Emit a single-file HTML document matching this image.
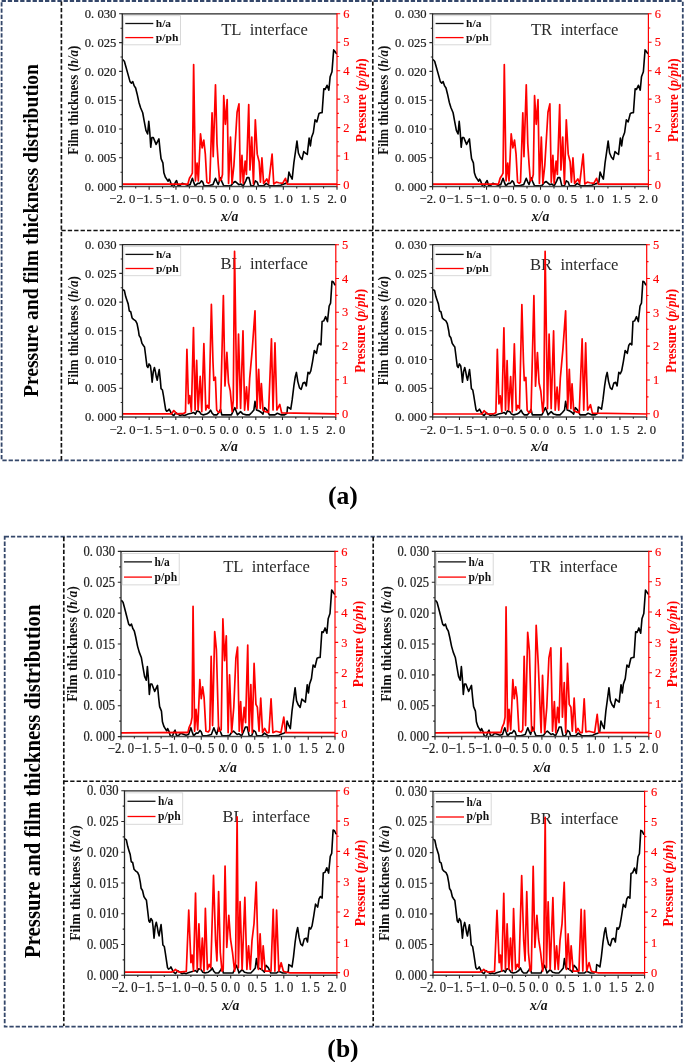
<!DOCTYPE html>
<html><head><meta charset="utf-8"><title>Pressure and film thickness distribution</title>
<style>
html,body{margin:0;padding:0;background:#fff;}
svg{display:block;filter:blur(0.35px);}
text{font-family:"Liberation Serif", serif;}
.tk{font-size:12.6px;fill:#1e1e1e;stroke:#1e1e1e;stroke-width:0.22px;}
.rt{font-size:12.4px;fill:#ff0000;stroke:#ff0000;stroke-width:0.15px;}
.yl{font-size:14px;font-weight:bold;fill:#111;}
.pl{font-size:14.2px;font-weight:bold;fill:#ff0000;}
.xl{font-size:13.6px;font-weight:bold;font-style:italic;fill:#111;}
.lg{font-size:10.6px;font-weight:bold;fill:#111;}
.if{font-size:16.6px;fill:#2a2a2a;}
.bt{font-size:21.3px;font-weight:bold;fill:#000;}
.cap{font-size:25.6px;font-weight:bold;fill:#000;}
</style></head>
<body>
<svg width="685" height="1062" viewBox="0 0 685 1062">
<rect width="685" height="1062" fill="#fff"/>
<rect x="1.6" y="1" width="681.2" height="459.3" fill="none" stroke="#34476a" stroke-width="1.8" stroke-dasharray="4.3 1.9"/>
<path d="M61.4 1.5V460" stroke="#111" stroke-width="1.65" stroke-dasharray="4.3 2.1" fill="none"/>
<path d="M372.8 1.5V460" stroke="#111" stroke-width="1.65" stroke-dasharray="4.3 2.1" fill="none"/>
<path d="M61.4 230.5H682" stroke="#111" stroke-width="1.65" stroke-dasharray="4.3 2.1" fill="none"/>
<rect x="4.7" y="536.7" width="677.1" height="490" fill="none" stroke="#34476a" stroke-width="1.8" stroke-dasharray="4.3 1.9"/>
<path d="M63.8 537V1026" stroke="#111" stroke-width="1.65" stroke-dasharray="4.3 2.1" fill="none"/>
<path d="M373.2 537V1026" stroke="#111" stroke-width="1.65" stroke-dasharray="4.3 2.1" fill="none"/>
<path d="M63.8 781.2H681" stroke="#111" stroke-width="1.65" stroke-dasharray="4.3 2.1" fill="none"/>
<text x="221.2" y="34.6" class="if">TL&#160;&#160;interface</text>
<path d="M122.3 59.76 L122.94 59.76 L124.35 61.2 L125.76 66.16 L127.88 73.88 L130 81.65 L131.41 83.09 L132.82 81.65 L134.23 85.92 L135.64 88.05 L137.06 93.69 L138.89 102.16 L140.58 107.8 L142.7 112.76 L144.11 120.53 L145.94 130.38 L147.64 133.95 L148.77 121.22 L149.75 131.82 L150.74 147.32 L151.87 137.47 L153.29 137.47 L154.98 141.67 L156.1 144.49 L157.52 141.67 L158.93 138.85 L160.06 150.2 L161.05 158.66 L162.88 162.87 L163.87 172.78 L165.28 176.98 L166.69 179.11 L168.1 181.24 L169.09 179.11 L170.22 181.24 L171.63 185.51 L173.75 186.89 L175.16 182.68 L176.57 180.55 L177.98 185.51 L180.1 185.51 L182.22 183.37 L187.54 185.28 L190.08 184.64 L192.37 178.31 L193.64 182.11 L195.16 185.91 L197.7 183.37 L199.61 183.37 L201.51 180.84 L202.78 182.11 L204.05 185.91 L208.5 185.91 L210.4 185.28 L212.95 184.64 L215.49 178.31 L217.01 182.11 L218.28 184.64 L220.31 177.67 L222.09 182.11 L223.74 185.91 L228.18 185.91 L231.36 185.28 L233.27 182.74 L235.17 181.47 L238.81 184.64 L240.72 184.01 L243.26 185.91 L245.8 180.84 L247.07 177.67 L248.97 177.67 L250.88 185.91 L253.42 185.91 L255.32 180.84 L257.23 182.11 L258.5 185.91 L263.58 185.91 L266.12 183.37 L268.03 184.64 L269.93 185.91 L276.92 185.91 L280.73 185.28 L283.9 184.01 L285.81 183.37 L287.72 182.11 L288.93 172.08 L290.35 175.6 L292.18 179.11 L293.87 162.87 L295.28 153.02 L296.98 140.98 L298.39 153.02 L300.22 157.22 L302.06 159.36 L303.75 151.58 L305.44 153.02 L307.28 154.4 L309.12 138.16 L310.39 145.93 L311.52 137.47 L313.35 132.51 L315.04 119.78 L316.88 121.92 L319 113.45 L320.69 112.76 L322.1 112.76 L323.8 88.74 L325.2 89.43 L327.04 85.22 L328.87 90.12 L330.15 76.7 L331.98 71.8 L333.67 49.92 L334.8 51.3 L336.21 53.43 L337 53.43" fill="none" stroke="#000" stroke-width="1.6" stroke-linejoin="round"/>
<path d="M122.3 184.07 L122.94 184.07 L187.54 184.03 L187.86 184.07 L189.45 178.31 L191.35 175.13 L192.37 173.22 L193.64 64.53 L195.42 180.85 L197.07 163.05 L198.34 180.85 L200.5 133.81 L202.15 147.8 L203.8 140.17 L205.32 154.15 L206.85 182.12 L208.5 183.39 L209.77 182.12 L212.06 112.84 L213.2 156.69 L215.49 84.87 L217.01 143.98 L218.28 164.32 L219.55 180.85 L221.2 179.58 L222.47 174.49 L223.74 95.68 L225.39 124.28 L227.17 99.49 L228.57 183.39 L230.47 136.99 L232 183.39 L233.9 165.59 L237.08 112.2 L238.98 103.94 L240.34 182.12 L241.98 155.42 L243.26 183.39 L245.16 161.14 L246.43 174.49 L248.72 104.58 L249.99 170.04 L251.76 136.99 L253.42 184.03 L255.32 119.83 L257.23 154.15 L259.13 161.78 L260.41 182.12 L261.93 157.97 L263.58 183.39 L266.76 178.94 L268.66 183.39 L272.09 154.15 L273.74 184.03 L276.28 182.12 L278.82 182.75 L282.63 183.39 L285.43 178.31 L287.08 184.03 L290 184.03 L295.28 184.07 L336.92 184.07 L337 184.07" fill="none" stroke="#ff0000" stroke-width="1.7" stroke-linejoin="round"/>
<path d="M121.7 13.8 H337" stroke="#262626" stroke-width="1.3"/>
<path d="M122.3 13.8 V187.2" stroke="#262626" stroke-width="1.3"/>
<path d="M122.3 186.6 H337" stroke="#4a4a4a" stroke-width="1.5"/>
<path d="M337 13.2 V187.2" stroke="#ff0000" stroke-width="1.2"/>
<path d="M119.1 186.6H122.3M120.5 172.2H122.3M119.1 157.8H122.3M120.5 143.4H122.3M119.1 129H122.3M120.5 114.6H122.3M119.1 100.2H122.3M120.5 85.8H122.3M119.1 71.4H122.3M120.5 57H122.3M119.1 42.6H122.3M120.5 28.2H122.3M119.1 13.8H122.3M122.3 186.6V189.8M135.72 186.6V188.4M149.14 186.6V189.8M162.56 186.6V188.4M175.97 186.6V189.8M189.39 186.6V188.4M202.81 186.6V189.8M216.23 186.6V188.4M229.65 186.6V189.8M243.07 186.6V188.4M256.49 186.6V189.8M269.91 186.6V188.4M283.32 186.6V189.8M296.74 186.6V188.4M310.16 186.6V189.8M323.58 186.6V188.4M337 186.6V189.8" stroke="#262626" stroke-width="1.1" fill="none"/>
<path d="M337 184.5H340.2M337 170.28H338.8M337 156.05H340.2M337 141.82H338.8M337 127.6H340.2M337 113.38H338.8M337 99.15H340.2M337 84.92H338.8M337 70.7H340.2M337 56.48H338.8M337 42.25H340.2M337 28.03H338.8M337 13.8H340.2" stroke="#ff0000" stroke-width="1.1" fill="none"/>
<text x="116.3" y="190.8" text-anchor="end" class="tk">0. 000</text>
<text x="116.3" y="162" text-anchor="end" class="tk">0. 005</text>
<text x="116.3" y="133.2" text-anchor="end" class="tk">0. 010</text>
<text x="116.3" y="104.4" text-anchor="end" class="tk">0. 015</text>
<text x="116.3" y="75.6" text-anchor="end" class="tk">0. 020</text>
<text x="116.3" y="46.8" text-anchor="end" class="tk">0. 025</text>
<text x="116.3" y="18" text-anchor="end" class="tk">0. 030</text>
<text x="122.3" y="203.4" text-anchor="middle" class="tk">−2. 0</text>
<text x="149.14" y="203.4" text-anchor="middle" class="tk">−1. 5</text>
<text x="175.97" y="203.4" text-anchor="middle" class="tk">−1. 0</text>
<text x="202.81" y="203.4" text-anchor="middle" class="tk">−0. 5</text>
<text x="229.65" y="203.4" text-anchor="middle" class="tk">0. 0</text>
<text x="256.49" y="203.4" text-anchor="middle" class="tk">0. 5</text>
<text x="283.32" y="203.4" text-anchor="middle" class="tk">1. 0</text>
<text x="310.16" y="203.4" text-anchor="middle" class="tk">1. 5</text>
<text x="337" y="203.4" text-anchor="middle" class="tk">2. 0</text>
<text x="343.3" y="188.7" class="rt">0</text>
<text x="343.3" y="160.25" class="rt">1</text>
<text x="343.3" y="131.8" class="rt">2</text>
<text x="343.3" y="103.35" class="rt">3</text>
<text x="343.3" y="74.9" class="rt">4</text>
<text x="343.3" y="46.45" class="rt">5</text>
<text x="343.3" y="18" class="rt">6</text>
<text transform="translate(78 100.2) rotate(-90)" text-anchor="middle" class="yl" textLength="109.1" lengthAdjust="spacingAndGlyphs">Film thickness (<tspan font-style="italic">h/a</tspan>)</text>
<text transform="translate(366.2 100.2) rotate(-90)" text-anchor="middle" class="pl" textLength="83.7" lengthAdjust="spacingAndGlyphs">Pressure (<tspan font-style="italic">p/ph</tspan>)</text>
<text x="229.65" y="220.9" text-anchor="middle" class="xl">x/a</text>
<rect x="123.6" y="15.7" width="56.9" height="29.1" fill="#fff" stroke="#d4d4d4" stroke-width="0.9"/>
<path d="M125.3 23.5H153.3" stroke="#111" stroke-width="1.3"/>
<path d="M125.3 37.6H153.3" stroke="#ff0000" stroke-width="1.3"/>
<text x="155.8" y="27.4" class="lg" textLength="15.3" lengthAdjust="spacingAndGlyphs">h/a</text>
<text x="155.8" y="40.8" class="lg" textLength="22.6" lengthAdjust="spacingAndGlyphs">p/ph</text>
<text x="530.9" y="34.6" class="if">TR&#160;&#160;interface</text>
<path d="M432.6 59.76 L433.24 59.76 L434.66 61.2 L436.08 66.16 L438.21 73.88 L440.34 81.65 L441.76 83.09 L443.17 81.65 L444.59 85.92 L446.01 88.05 L447.43 93.69 L449.27 102.16 L450.98 107.8 L453.1 112.76 L454.52 120.53 L456.36 130.38 L458.07 133.95 L459.2 121.22 L460.2 131.82 L461.19 147.32 L462.33 137.47 L463.75 137.47 L465.44 141.67 L466.58 144.49 L468 141.67 L469.42 138.85 L470.55 150.2 L471.55 158.66 L473.39 162.87 L474.38 172.78 L475.8 176.98 L477.22 179.11 L478.64 181.24 L479.63 179.11 L480.77 181.24 L482.19 185.51 L484.31 186.89 L485.73 182.68 L487.15 180.55 L488.57 185.51 L490.69 185.51 L492.82 183.37 L498.18 185.28 L500.73 184.64 L503.03 178.31 L504.3 182.11 L505.84 185.91 L508.39 183.37 L510.3 183.37 L512.22 180.84 L513.49 182.11 L514.77 185.91 L519.24 185.91 L521.15 185.28 L523.71 184.64 L526.26 178.31 L527.79 182.11 L529.07 184.64 L531.11 177.67 L532.9 182.11 L534.56 185.91 L539.03 185.91 L542.22 185.28 L544.14 182.74 L546.05 181.47 L549.71 184.64 L551.62 184.01 L554.18 185.91 L556.73 180.84 L558.01 177.67 L559.92 177.67 L561.84 185.91 L564.39 185.91 L566.3 180.84 L568.22 182.11 L569.5 185.91 L574.6 185.91 L577.16 183.37 L579.07 184.64 L580.99 185.91 L588.01 185.91 L591.84 185.28 L595.03 184.01 L596.95 183.37 L598.86 182.11 L600.09 172.08 L601.51 175.6 L603.35 179.11 L605.05 162.87 L606.47 153.02 L608.17 140.98 L609.59 153.02 L611.43 157.22 L613.28 159.36 L614.98 151.58 L616.68 153.02 L618.53 154.4 L620.37 138.16 L621.65 145.93 L622.78 137.47 L624.63 132.51 L626.33 119.78 L628.17 121.92 L630.31 113.45 L632 112.76 L633.42 112.76 L635.13 88.74 L636.54 89.43 L638.39 85.22 L640.23 90.12 L641.51 76.7 L643.36 71.8 L645.06 49.92 L646.19 51.3 L647.61 53.43 L648.4 53.43" fill="none" stroke="#000" stroke-width="1.6" stroke-linejoin="round"/>
<path d="M432.6 184.07 L433.24 184.07 L498.18 184.03 L498.5 184.07 L500.09 178.31 L502.01 175.13 L503.03 173.22 L504.3 64.53 L506.09 180.85 L507.75 163.05 L509.03 180.85 L511.2 133.81 L512.86 147.8 L514.52 140.17 L516.05 154.15 L517.58 182.12 L519.24 183.39 L520.52 182.12 L522.82 112.84 L523.96 156.69 L526.26 84.87 L527.79 143.98 L529.07 164.32 L530.35 180.85 L532.01 179.58 L533.29 174.49 L534.56 95.68 L536.22 124.28 L538.01 99.49 L539.41 183.39 L541.33 136.99 L542.86 183.39 L544.77 165.59 L547.97 112.2 L549.88 103.94 L551.24 182.12 L552.9 155.42 L554.18 183.39 L556.09 161.14 L557.37 174.49 L559.67 104.58 L560.94 170.04 L562.73 136.99 L564.39 184.03 L566.3 119.83 L568.22 154.15 L570.13 161.78 L571.41 182.12 L572.95 157.97 L574.6 183.39 L577.8 178.94 L579.71 183.39 L583.16 154.15 L584.82 184.03 L587.37 182.12 L589.92 182.75 L593.75 183.39 L596.56 178.31 L598.22 184.03 L601.16 184.03 L606.47 184.07 L648.32 184.07 L648.4 184.07" fill="none" stroke="#ff0000" stroke-width="1.7" stroke-linejoin="round"/>
<path d="M432 13.8 H648.4" stroke="#262626" stroke-width="1.3"/>
<path d="M432.6 13.8 V187.2" stroke="#262626" stroke-width="1.3"/>
<path d="M432.6 186.6 H648.4" stroke="#4a4a4a" stroke-width="1.5"/>
<path d="M648.4 13.2 V187.2" stroke="#ff0000" stroke-width="1.2"/>
<path d="M429.4 186.6H432.6M430.8 172.2H432.6M429.4 157.8H432.6M430.8 143.4H432.6M429.4 129H432.6M430.8 114.6H432.6M429.4 100.2H432.6M430.8 85.8H432.6M429.4 71.4H432.6M430.8 57H432.6M429.4 42.6H432.6M430.8 28.2H432.6M429.4 13.8H432.6M432.6 186.6V189.8M446.09 186.6V188.4M459.58 186.6V189.8M473.06 186.6V188.4M486.55 186.6V189.8M500.04 186.6V188.4M513.52 186.6V189.8M527.01 186.6V188.4M540.5 186.6V189.8M553.99 186.6V188.4M567.48 186.6V189.8M580.96 186.6V188.4M594.45 186.6V189.8M607.94 186.6V188.4M621.42 186.6V189.8M634.91 186.6V188.4M648.4 186.6V189.8" stroke="#262626" stroke-width="1.1" fill="none"/>
<path d="M648.4 184.5H651.6M648.4 170.28H650.2M648.4 156.05H651.6M648.4 141.82H650.2M648.4 127.6H651.6M648.4 113.38H650.2M648.4 99.15H651.6M648.4 84.92H650.2M648.4 70.7H651.6M648.4 56.48H650.2M648.4 42.25H651.6M648.4 28.03H650.2M648.4 13.8H651.6" stroke="#ff0000" stroke-width="1.1" fill="none"/>
<text x="426.6" y="190.8" text-anchor="end" class="tk">0. 000</text>
<text x="426.6" y="162" text-anchor="end" class="tk">0. 005</text>
<text x="426.6" y="133.2" text-anchor="end" class="tk">0. 010</text>
<text x="426.6" y="104.4" text-anchor="end" class="tk">0. 015</text>
<text x="426.6" y="75.6" text-anchor="end" class="tk">0. 020</text>
<text x="426.6" y="46.8" text-anchor="end" class="tk">0. 025</text>
<text x="426.6" y="18" text-anchor="end" class="tk">0. 030</text>
<text x="432.6" y="203.4" text-anchor="middle" class="tk">−2. 0</text>
<text x="459.58" y="203.4" text-anchor="middle" class="tk">−1. 5</text>
<text x="486.55" y="203.4" text-anchor="middle" class="tk">−1. 0</text>
<text x="513.52" y="203.4" text-anchor="middle" class="tk">−0. 5</text>
<text x="540.5" y="203.4" text-anchor="middle" class="tk">0. 0</text>
<text x="567.48" y="203.4" text-anchor="middle" class="tk">0. 5</text>
<text x="594.45" y="203.4" text-anchor="middle" class="tk">1. 0</text>
<text x="621.42" y="203.4" text-anchor="middle" class="tk">1. 5</text>
<text x="648.4" y="203.4" text-anchor="middle" class="tk">2. 0</text>
<text x="654.7" y="188.7" class="rt">0</text>
<text x="654.7" y="160.25" class="rt">1</text>
<text x="654.7" y="131.8" class="rt">2</text>
<text x="654.7" y="103.35" class="rt">3</text>
<text x="654.7" y="74.9" class="rt">4</text>
<text x="654.7" y="46.45" class="rt">5</text>
<text x="654.7" y="18" class="rt">6</text>
<text transform="translate(388.3 100.2) rotate(-90)" text-anchor="middle" class="yl" textLength="109.1" lengthAdjust="spacingAndGlyphs">Film thickness (<tspan font-style="italic">h/a</tspan>)</text>
<text transform="translate(677.6 100.2) rotate(-90)" text-anchor="middle" class="pl" textLength="83.7" lengthAdjust="spacingAndGlyphs">Pressure (<tspan font-style="italic">p/ph</tspan>)</text>
<text x="540.5" y="220.9" text-anchor="middle" class="xl">x/a</text>
<rect x="433.9" y="15.7" width="56.9" height="29.1" fill="#fff" stroke="#d4d4d4" stroke-width="0.9"/>
<path d="M435.6 23.5H463.6" stroke="#111" stroke-width="1.3"/>
<path d="M435.6 37.6H463.6" stroke="#ff0000" stroke-width="1.3"/>
<text x="466.1" y="27.4" class="lg" textLength="15.3" lengthAdjust="spacingAndGlyphs">h/a</text>
<text x="466.1" y="40.8" class="lg" textLength="22.6" lengthAdjust="spacingAndGlyphs">p/ph</text>
<text x="220.4" y="269" class="if">BL&#160;&#160;interface</text>
<path d="M122.5 289.76 L122.94 289.76 L124.35 290.51 L125.76 296.82 L127.17 301.07 L128.16 303.88 L129.29 310.94 L130.7 311.69 L132.11 318 L133.53 319.43 L135.64 320.87 L137.05 323.68 L138.47 330.74 L139.17 335.68 L140.58 337.8 L142 343.43 L143.4 345.55 L144.53 346.99 L145.52 354.74 L146.93 366.04 L147.92 367.48 L149.05 363.92 L150.46 366.04 L151.17 371.67 L152.15 382.29 L153.28 371.67 L154.42 367.48 L155.4 371.67 L156.39 377.35 L157.24 380.16 L158.22 374.54 L159.21 369.6 L160.34 380.16 L161.05 388.66 L162.46 390.04 L163.45 395.72 L164.57 402.78 L165.7 409.84 L166.69 411.22 L168.1 410.53 L169.09 409.15 L170.22 411.22 L171.63 414.09 L173.75 415.46 L175.87 412.65 L177.98 414.09 L180.1 415.46 L182.22 414.78 L184.34 415.46 L185.8 414.89 L188.2 414.09 L191.4 413.28 L193.8 412.48 L195.39 414.09 L196.99 410.87 L199.39 411.68 L200.99 414.09 L203.39 414.89 L206.58 414.09 L208.98 412.48 L210.58 410.07 L212.18 413.28 L213.78 414.89 L216.98 414.89 L219.38 411.68 L220.5 409.27 L221.78 414.89 L231.37 414.89 L232.96 411.68 L234.88 407.66 L236.96 413.28 L237.4 414.89 L240.59 411.68 L242.99 414.09 L246.19 414.89 L249.39 414.89 L251.79 412.48 L253.87 410.07 L254.99 401.29 L256.59 410.07 L258.98 410.87 L261.38 412.48 L262.98 414.09 L264.58 407.66 L266.98 410.07 L269.37 414.89 L274.97 414.89 L277.37 413.28 L281.37 414.89 L284.57 414.89 L286.96 413.28 L287.52 407.03 L288.93 407.72 L290.77 409.15 L292.18 399.97 L293.87 385.85 L295.28 376.66 L296.41 372.41 L297.82 381.6 L299.52 387.91 L301.21 389.35 L303.05 382.98 L304.88 382.29 L306.29 385.85 L307.99 372.41 L309.4 373.79 L310.81 370.98 L312.5 361.8 L314.34 350.49 L316.45 353.36 L317.87 345.55 L319.27 343.43 L320.97 344.86 L322.1 321.56 L323.79 320.87 L325.63 316.62 L327.47 321.56 L329.16 306 L330.57 303.19 L331.98 281.32 L333.39 282.01 L334.8 284.82 L335.8 284.82" fill="none" stroke="#000" stroke-width="1.6" stroke-linejoin="round"/>
<path d="M122.5 413.79 L122.94 413.79 L171.63 413.79 L173.75 410.54 L175.16 411.95 L176.57 413.79 L183.63 413.36 L185.48 412.48 L186.92 349.25 L188.52 403.67 L189.8 395.67 L191.4 411.68 L193.48 327.64 L195.08 410.08 L196.67 360.45 L198.11 410.08 L200.19 376.46 L201.79 411.68 L203.87 343.64 L205.78 410.08 L207.38 405.27 L208.98 408.47 L211.38 304.43 L212.98 362.05 L213.78 380.46 L215.38 377.26 L216.66 410.08 L218.58 412.48 L220.5 411.68 L223.37 295.62 L224.97 386.06 L226.89 352.45 L228.49 382.86 L230.25 390.87 L232.17 411.68 L233.28 400.47 L234.56 251.28 L236.92 408.47 L238.52 334.04 L240.59 408.47 L242.99 330.84 L244.59 410.08 L246.51 386.86 L248.11 410.08 L249.71 378.06 L252.27 349.25 L254.99 310.83 L257.07 408.47 L258.67 369.26 L260.26 408.47 L261.38 383.66 L262.98 410.08 L265.38 411.68 L268.57 412.48 L271.45 338.84 L273.05 410.08 L274.97 342.84 L276.89 410.08 L279.77 404.47 L281.69 412.96 L335.8 413.79" fill="none" stroke="#ff0000" stroke-width="1.7" stroke-linejoin="round"/>
<path d="M121.9 244.7 H335.8" stroke="#262626" stroke-width="1.3"/>
<path d="M122.5 244.7 V417.5" stroke="#262626" stroke-width="1.3"/>
<path d="M122.5 416.9 H335.8" stroke="#4a4a4a" stroke-width="1.5"/>
<path d="M335.8 244.1 V417.5" stroke="#ff0000" stroke-width="1.2"/>
<path d="M119.3 416.9H122.5M120.7 402.55H122.5M119.3 388.2H122.5M120.7 373.85H122.5M119.3 359.5H122.5M120.7 345.15H122.5M119.3 330.8H122.5M120.7 316.45H122.5M119.3 302.1H122.5M120.7 287.75H122.5M119.3 273.4H122.5M120.7 259.05H122.5M119.3 244.7H122.5M122.5 416.9V420.1M135.83 416.9V418.7M149.16 416.9V420.1M162.49 416.9V418.7M175.82 416.9V420.1M189.16 416.9V418.7M202.49 416.9V420.1M215.82 416.9V418.7M229.15 416.9V420.1M242.48 416.9V418.7M255.81 416.9V420.1M269.14 416.9V418.7M282.48 416.9V420.1M295.81 416.9V418.7M309.14 416.9V420.1M322.47 416.9V418.7M335.8 416.9V420.1" stroke="#262626" stroke-width="1.1" fill="none"/>
<path d="M335.8 413.6H339M335.8 396.71H337.6M335.8 379.82H339M335.8 362.93H337.6M335.8 346.04H339M335.8 329.15H337.6M335.8 312.26H339M335.8 295.37H337.6M335.8 278.48H339M335.8 261.59H337.6M335.8 244.7H339" stroke="#ff0000" stroke-width="1.1" fill="none"/>
<text x="116.5" y="421.1" text-anchor="end" class="tk">0. 000</text>
<text x="116.5" y="392.4" text-anchor="end" class="tk">0. 005</text>
<text x="116.5" y="363.7" text-anchor="end" class="tk">0. 010</text>
<text x="116.5" y="335" text-anchor="end" class="tk">0. 015</text>
<text x="116.5" y="306.3" text-anchor="end" class="tk">0. 020</text>
<text x="116.5" y="277.6" text-anchor="end" class="tk">0. 025</text>
<text x="116.5" y="248.9" text-anchor="end" class="tk">0. 030</text>
<text x="122.5" y="433.7" text-anchor="middle" class="tk">−2. 0</text>
<text x="149.16" y="433.7" text-anchor="middle" class="tk">−1. 5</text>
<text x="175.82" y="433.7" text-anchor="middle" class="tk">−1. 0</text>
<text x="202.49" y="433.7" text-anchor="middle" class="tk">−0. 5</text>
<text x="229.15" y="433.7" text-anchor="middle" class="tk">0. 0</text>
<text x="255.81" y="433.7" text-anchor="middle" class="tk">0. 5</text>
<text x="282.48" y="433.7" text-anchor="middle" class="tk">1. 0</text>
<text x="309.14" y="433.7" text-anchor="middle" class="tk">1. 5</text>
<text x="335.8" y="433.7" text-anchor="middle" class="tk">2. 0</text>
<text x="342.1" y="417.8" class="rt">0</text>
<text x="342.1" y="384.02" class="rt">1</text>
<text x="342.1" y="350.24" class="rt">2</text>
<text x="342.1" y="316.46" class="rt">3</text>
<text x="342.1" y="282.68" class="rt">4</text>
<text x="342.1" y="248.9" class="rt">5</text>
<text transform="translate(78.2 330.8) rotate(-90)" text-anchor="middle" class="yl" textLength="109.1" lengthAdjust="spacingAndGlyphs">Film thickness (<tspan font-style="italic">h/a</tspan>)</text>
<text transform="translate(365 330.8) rotate(-90)" text-anchor="middle" class="pl" textLength="83.7" lengthAdjust="spacingAndGlyphs">Pressure (<tspan font-style="italic">p/ph</tspan>)</text>
<text x="229.15" y="451.2" text-anchor="middle" class="xl">x/a</text>
<rect x="123.8" y="246.6" width="56.9" height="29.1" fill="#fff" stroke="#d4d4d4" stroke-width="0.9"/>
<path d="M125.5 254.4H153.5" stroke="#111" stroke-width="1.3"/>
<path d="M125.5 268.5H153.5" stroke="#ff0000" stroke-width="1.3"/>
<text x="156" y="258.3" class="lg" textLength="15.3" lengthAdjust="spacingAndGlyphs">h/a</text>
<text x="156" y="271.7" class="lg" textLength="22.6" lengthAdjust="spacingAndGlyphs">p/ph</text>
<text x="530" y="270.3" class="if">BR&#160;&#160;interface</text>
<path d="M432.7 289.76 L433.14 289.76 L434.56 290.51 L435.97 296.82 L437.39 301.07 L438.38 303.88 L439.51 310.94 L440.93 311.69 L442.35 318 L443.76 319.43 L445.89 320.87 L447.3 323.68 L448.72 330.74 L449.42 335.68 L450.84 337.8 L452.26 343.43 L453.67 345.55 L454.81 346.99 L455.8 354.74 L457.21 366.04 L458.2 367.48 L459.34 363.92 L460.76 366.04 L461.46 371.67 L462.45 382.29 L463.59 371.67 L464.72 367.48 L465.71 371.67 L466.7 377.35 L467.55 380.16 L468.54 374.54 L469.53 369.6 L470.66 380.16 L471.38 388.66 L472.79 390.04 L473.78 395.72 L474.91 402.78 L476.05 409.84 L477.04 411.22 L478.45 410.53 L479.44 409.15 L480.58 411.22 L481.99 414.09 L484.12 415.46 L486.24 412.65 L488.37 414.09 L490.49 415.46 L492.61 414.78 L494.74 415.46 L496.2 414.89 L498.61 414.09 L501.82 413.28 L504.23 412.48 L505.83 414.09 L507.43 410.87 L509.84 411.68 L511.45 414.09 L513.85 414.89 L517.06 414.09 L519.47 412.48 L521.07 410.07 L522.68 413.28 L524.28 414.89 L527.49 414.89 L529.89 411.68 L531.02 409.27 L532.3 414.89 L541.93 414.89 L543.53 411.68 L545.45 407.66 L547.54 413.28 L547.98 414.89 L551.18 411.68 L553.59 414.09 L556.8 414.89 L560.01 414.89 L562.41 412.48 L564.5 410.07 L565.62 401.29 L567.23 410.07 L569.63 410.87 L572.04 412.48 L573.64 414.09 L575.25 407.66 L577.65 410.07 L580.06 414.89 L585.67 414.89 L588.08 413.28 L592.09 414.89 L595.3 414.89 L597.7 413.28 L598.26 407.03 L599.68 407.72 L601.52 409.15 L602.94 399.97 L604.63 385.85 L606.05 376.66 L607.18 372.41 L608.6 381.6 L610.3 387.91 L612 389.35 L613.84 382.98 L615.68 382.29 L617.09 385.85 L618.79 372.41 L620.21 373.79 L621.62 370.98 L623.33 361.8 L625.17 350.49 L627.29 353.36 L628.71 345.55 L630.12 343.43 L631.82 344.86 L632.96 321.56 L634.65 320.87 L636.49 316.62 L638.34 321.56 L640.03 306 L641.45 303.19 L642.87 281.32 L644.28 282.01 L645.7 284.82 L646.7 284.82" fill="none" stroke="#000" stroke-width="1.6" stroke-linejoin="round"/>
<path d="M432.7 413.99 L433.14 413.99 L481.99 413.99 L484.12 410.73 L485.53 412.15 L486.95 413.99 L494.03 413.56 L495.89 412.68 L497.33 349.37 L498.93 403.86 L500.22 395.85 L501.82 411.87 L503.91 327.73 L505.51 410.27 L507.11 360.59 L508.56 410.27 L510.64 376.62 L512.25 411.87 L514.34 343.76 L516.26 410.27 L517.86 405.46 L519.47 408.67 L521.87 304.5 L523.48 362.19 L524.28 380.62 L525.88 377.42 L527.16 410.27 L529.09 412.68 L531.02 411.87 L533.9 295.68 L535.51 386.23 L537.43 352.58 L539.04 383.03 L540.8 391.04 L542.73 411.87 L543.85 400.66 L545.13 251.29 L547.49 408.67 L549.1 334.15 L551.18 408.67 L553.59 330.94 L555.19 410.27 L557.12 387.03 L558.72 410.27 L560.32 378.22 L562.89 349.37 L565.62 310.91 L567.71 408.67 L569.31 369.4 L570.91 408.67 L572.04 383.83 L573.64 410.27 L576.05 411.87 L579.25 412.68 L582.14 338.95 L583.75 410.27 L585.67 342.96 L587.6 410.27 L590.48 404.66 L592.41 413.16 L646.7 413.99" fill="none" stroke="#ff0000" stroke-width="1.7" stroke-linejoin="round"/>
<path d="M432.1 244.7 H646.7" stroke="#262626" stroke-width="1.3"/>
<path d="M432.7 244.7 V417.5" stroke="#262626" stroke-width="1.3"/>
<path d="M432.7 416.9 H646.7" stroke="#4a4a4a" stroke-width="1.5"/>
<path d="M646.7 244.1 V417.5" stroke="#ff0000" stroke-width="1.2"/>
<path d="M429.5 416.9H432.7M430.9 402.55H432.7M429.5 388.2H432.7M430.9 373.85H432.7M429.5 359.5H432.7M430.9 345.15H432.7M429.5 330.8H432.7M430.9 316.45H432.7M429.5 302.1H432.7M430.9 287.75H432.7M429.5 273.4H432.7M430.9 259.05H432.7M429.5 244.7H432.7M432.7 416.9V420.1M446.07 416.9V418.7M459.45 416.9V420.1M472.82 416.9V418.7M486.2 416.9V420.1M499.57 416.9V418.7M512.95 416.9V420.1M526.33 416.9V418.7M539.7 416.9V420.1M553.08 416.9V418.7M566.45 416.9V420.1M579.83 416.9V418.7M593.2 416.9V420.1M606.58 416.9V418.7M619.95 416.9V420.1M633.33 416.9V418.7M646.7 416.9V420.1" stroke="#262626" stroke-width="1.1" fill="none"/>
<path d="M646.7 413.8H649.9M646.7 396.89H648.5M646.7 379.98H649.9M646.7 363.07H648.5M646.7 346.16H649.9M646.7 329.25H648.5M646.7 312.34H649.9M646.7 295.43H648.5M646.7 278.52H649.9M646.7 261.61H648.5M646.7 244.7H649.9" stroke="#ff0000" stroke-width="1.1" fill="none"/>
<text x="426.7" y="421.1" text-anchor="end" class="tk">0. 000</text>
<text x="426.7" y="392.4" text-anchor="end" class="tk">0. 005</text>
<text x="426.7" y="363.7" text-anchor="end" class="tk">0. 010</text>
<text x="426.7" y="335" text-anchor="end" class="tk">0. 015</text>
<text x="426.7" y="306.3" text-anchor="end" class="tk">0. 020</text>
<text x="426.7" y="277.6" text-anchor="end" class="tk">0. 025</text>
<text x="426.7" y="248.9" text-anchor="end" class="tk">0. 030</text>
<text x="432.7" y="433.7" text-anchor="middle" class="tk">−2. 0</text>
<text x="459.45" y="433.7" text-anchor="middle" class="tk">−1. 5</text>
<text x="486.2" y="433.7" text-anchor="middle" class="tk">−1. 0</text>
<text x="512.95" y="433.7" text-anchor="middle" class="tk">−0. 5</text>
<text x="539.7" y="433.7" text-anchor="middle" class="tk">0. 0</text>
<text x="566.45" y="433.7" text-anchor="middle" class="tk">0. 5</text>
<text x="593.2" y="433.7" text-anchor="middle" class="tk">1. 0</text>
<text x="619.95" y="433.7" text-anchor="middle" class="tk">1. 5</text>
<text x="646.7" y="433.7" text-anchor="middle" class="tk">2. 0</text>
<text x="653" y="418" class="rt">0</text>
<text x="653" y="384.18" class="rt">1</text>
<text x="653" y="350.36" class="rt">2</text>
<text x="653" y="316.54" class="rt">3</text>
<text x="653" y="282.72" class="rt">4</text>
<text x="653" y="248.9" class="rt">5</text>
<text transform="translate(388.4 330.8) rotate(-90)" text-anchor="middle" class="yl" textLength="109.1" lengthAdjust="spacingAndGlyphs">Film thickness (<tspan font-style="italic">h/a</tspan>)</text>
<text transform="translate(675.9 330.8) rotate(-90)" text-anchor="middle" class="pl" textLength="83.7" lengthAdjust="spacingAndGlyphs">Pressure (<tspan font-style="italic">p/ph</tspan>)</text>
<text x="539.7" y="451.2" text-anchor="middle" class="xl">x/a</text>
<rect x="434" y="246.6" width="56.9" height="29.1" fill="#fff" stroke="#d4d4d4" stroke-width="0.9"/>
<path d="M435.7 254.4H463.7" stroke="#111" stroke-width="1.3"/>
<path d="M435.7 268.5H463.7" stroke="#ff0000" stroke-width="1.3"/>
<text x="466.2" y="258.3" class="lg" textLength="15.3" lengthAdjust="spacingAndGlyphs">h/a</text>
<text x="466.2" y="271.7" class="lg" textLength="22.6" lengthAdjust="spacingAndGlyphs">p/ph</text>
<text x="223.2" y="572.2" class="if">TL&#160;&#160;interface</text>
<path d="M121 600.66 L121.64 600.66 L123.04 602.21 L124.45 607.52 L126.56 615.79 L128.67 624.12 L130.08 625.67 L131.49 624.12 L132.89 628.69 L134.3 630.97 L135.71 637.02 L137.53 646.1 L139.22 652.15 L141.33 657.46 L142.74 665.79 L144.57 676.35 L146.26 680.18 L147.38 666.53 L148.37 677.89 L149.35 694.5 L150.48 683.94 L151.89 683.94 L153.57 688.45 L154.69 691.47 L156.1 688.45 L157.51 685.42 L158.64 697.58 L159.62 706.66 L161.45 711.17 L162.44 721.78 L163.84 726.29 L165.25 728.57 L166.65 730.86 L167.64 728.57 L168.76 730.86 L170.17 735.43 L172.28 736.91 L173.69 732.4 L175.09 730.12 L176.5 735.43 L178.61 735.43 L180.72 733.14 L186.03 735.18 L188.56 734.5 L190.84 727.71 L192.11 731.78 L193.63 735.86 L196.16 733.14 L198.06 733.14 L199.96 730.43 L201.22 731.78 L202.49 735.86 L206.92 735.86 L208.81 735.18 L211.35 734.5 L213.88 727.71 L215.4 731.78 L216.67 734.5 L218.69 727.03 L220.47 731.78 L222.11 735.86 L226.54 735.86 L229.71 735.18 L231.61 732.46 L233.51 731.11 L237.13 734.5 L239.03 733.82 L241.56 735.86 L244.09 730.43 L245.36 727.03 L247.26 727.03 L249.16 735.86 L251.69 735.86 L253.59 730.43 L255.49 731.78 L256.76 735.86 L261.82 735.86 L264.35 733.14 L266.25 734.5 L268.15 735.86 L275.11 735.86 L278.91 735.18 L282.08 733.82 L283.98 733.14 L285.88 731.78 L287.09 721.04 L288.5 724.81 L290.33 728.57 L292.01 711.17 L293.42 700.61 L295.11 687.71 L296.52 700.61 L298.34 705.12 L300.17 707.4 L301.86 699.07 L303.55 700.61 L305.38 702.09 L307.21 684.68 L308.47 693.02 L309.6 683.94 L311.43 678.63 L313.11 664.99 L314.94 667.27 L317.06 658.2 L318.74 657.46 L320.15 657.46 L321.84 631.72 L323.24 632.46 L325.07 627.95 L326.9 633.2 L328.17 618.81 L330 613.57 L331.68 590.11 L332.81 591.59 L334.21 593.87 L335 593.87" fill="none" stroke="#000" stroke-width="1.6" stroke-linejoin="round"/>
<path d="M121 732.92 L122.03 732.92 L186.85 732.47 L187.83 732.66 L189.24 727.01 L190.94 723.47 L192.07 717.12 L193.06 606.24 L194.62 731.24 L196.03 709.35 L197.72 729.83 L199.85 679.69 L201.26 698.76 L202.67 686.75 L204.09 697.34 L205.93 731.24 L208.33 731.95 L209.74 729.83 L211.16 656.38 L212.57 725.59 L214.69 631.67 L216.39 649.32 L218.65 731.24 L220.07 730.54 L221.19 729.83 L222.89 618.95 L224.59 660.62 L226.29 635.9 L228.12 732.66 L229.54 674.75 L231.66 732.66 L233.78 707.23 L235.9 657.8 L237.54 647.2 L239.24 731.24 L240.66 701.58 L242.07 732.66 L244.19 707.23 L245.6 722.77 L247.73 645.08 L249.14 731.24 L250.83 684.63 L252.25 732.66 L254.09 663.45 L255.93 704.41 L257.34 707.23 L259.04 731.24 L260.73 698.05 L262.57 732.66 L264.69 728.42 L266.81 732.66 L268.93 732.66 L271.05 698.76 L272.89 732.66 L276 731.24 L278.83 731.95 L280.95 732.66 L283.78 717.12 L285.62 732.66 L290 732.66 L333.97 732.66 L335 732.66" fill="none" stroke="#ff0000" stroke-width="1.7" stroke-linejoin="round"/>
<path d="M120.4 551.4 H335" stroke="#262626" stroke-width="1.3"/>
<path d="M121 551.4 V737.2" stroke="#262626" stroke-width="1.3"/>
<path d="M121 736.6 H335" stroke="#4a4a4a" stroke-width="1.5"/>
<path d="M335 550.8 V737.2" stroke="#ff0000" stroke-width="1.2"/>
<path d="M117.8 736.6H121M119.2 721.17H121M117.8 705.73H121M119.2 690.3H121M117.8 674.87H121M119.2 659.43H121M117.8 644H121M119.2 628.57H121M117.8 613.13H121M119.2 597.7H121M117.8 582.27H121M119.2 566.83H121M117.8 551.4H121M121 736.6V739.8M134.38 736.6V738.4M147.75 736.6V739.8M161.12 736.6V738.4M174.5 736.6V739.8M187.88 736.6V738.4M201.25 736.6V739.8M214.62 736.6V738.4M228 736.6V739.8M241.38 736.6V738.4M254.75 736.6V739.8M268.12 736.6V738.4M281.5 736.6V739.8M294.88 736.6V738.4M308.25 736.6V739.8M321.62 736.6V738.4M335 736.6V739.8" stroke="#262626" stroke-width="1.1" fill="none"/>
<path d="M335 733.4H338.2M335 718.23H336.8M335 703.07H338.2M335 687.9H336.8M335 672.73H338.2M335 657.57H336.8M335 642.4H338.2M335 627.23H336.8M335 612.07H338.2M335 596.9H336.8M335 581.73H338.2M335 566.57H336.8M335 551.4H338.2" stroke="#ff0000" stroke-width="1.1" fill="none"/>
<text transform="translate(115 741.14) scale(1 1.08)" text-anchor="end" class="tk">0. 000</text>
<text transform="translate(115 710.27) scale(1 1.08)" text-anchor="end" class="tk">0. 005</text>
<text transform="translate(115 679.4) scale(1 1.08)" text-anchor="end" class="tk">0. 010</text>
<text transform="translate(115 648.54) scale(1 1.08)" text-anchor="end" class="tk">0. 015</text>
<text transform="translate(115 617.67) scale(1 1.08)" text-anchor="end" class="tk">0. 020</text>
<text transform="translate(115 586.8) scale(1 1.08)" text-anchor="end" class="tk">0. 025</text>
<text transform="translate(115 555.94) scale(1 1.08)" text-anchor="end" class="tk">0. 030</text>
<text transform="translate(121 753.1) scale(1 1.08)" text-anchor="middle" class="tk">−2. 0</text>
<text transform="translate(147.75 753.1) scale(1 1.08)" text-anchor="middle" class="tk">−1. 5</text>
<text transform="translate(174.5 753.1) scale(1 1.08)" text-anchor="middle" class="tk">−1. 0</text>
<text transform="translate(201.25 753.1) scale(1 1.08)" text-anchor="middle" class="tk">−0. 5</text>
<text transform="translate(228 753.1) scale(1 1.08)" text-anchor="middle" class="tk">0. 0</text>
<text transform="translate(254.75 753.1) scale(1 1.08)" text-anchor="middle" class="tk">0. 5</text>
<text transform="translate(281.5 753.1) scale(1 1.08)" text-anchor="middle" class="tk">1. 0</text>
<text transform="translate(308.25 753.1) scale(1 1.08)" text-anchor="middle" class="tk">1. 5</text>
<text transform="translate(335 753.1) scale(1 1.08)" text-anchor="middle" class="tk">2. 0</text>
<text transform="translate(341.3 737.94) scale(1 1.08)" class="rt">0</text>
<text transform="translate(341.3 707.6) scale(1 1.08)" class="rt">1</text>
<text transform="translate(341.3 677.27) scale(1 1.08)" class="rt">2</text>
<text transform="translate(341.3 646.94) scale(1 1.08)" class="rt">3</text>
<text transform="translate(341.3 616.6) scale(1 1.08)" class="rt">4</text>
<text transform="translate(341.3 586.27) scale(1 1.08)" class="rt">5</text>
<text transform="translate(341.3 555.94) scale(1 1.08)" class="rt">6</text>
<text transform="translate(76.7 644) rotate(-90)" text-anchor="middle" class="yl" textLength="115.7" lengthAdjust="spacingAndGlyphs">Film thickness (<tspan font-style="italic">h/a</tspan>)</text>
<text transform="translate(363.3 644) rotate(-90)" text-anchor="middle" class="pl" textLength="86.4" lengthAdjust="spacingAndGlyphs">Pressure (<tspan font-style="italic">p/ph</tspan>)</text>
<text transform="translate(228 771.7) scale(1 1.08)" text-anchor="middle" class="xl">x/a</text>
<rect x="122.3" y="553.45" width="56.9" height="31.43" fill="#fff" stroke="#d4d4d4" stroke-width="0.9"/>
<path d="M124 561.88H152" stroke="#111" stroke-width="1.3"/>
<path d="M124 577.1H152" stroke="#ff0000" stroke-width="1.3"/>
<text transform="translate(154.5 566.09) scale(1 1.08)" class="lg" textLength="15.3" lengthAdjust="spacingAndGlyphs">h/a</text>
<text transform="translate(154.5 580.56) scale(1 1.08)" class="lg" textLength="22.6" lengthAdjust="spacingAndGlyphs">p/ph</text>
<text x="530" y="572" class="if">TR&#160;&#160;interface</text>
<path d="M435 600.66 L435.64 600.66 L437.04 602.21 L438.45 607.52 L440.56 615.79 L442.66 624.12 L444.07 625.67 L445.48 624.12 L446.88 628.69 L448.29 630.97 L449.69 637.02 L451.52 646.1 L453.21 652.15 L455.31 657.46 L456.72 665.79 L458.54 676.35 L460.23 680.18 L461.36 666.53 L462.34 677.89 L463.32 694.5 L464.45 683.94 L465.86 683.94 L467.54 688.45 L468.66 691.47 L470.07 688.45 L471.47 685.42 L472.6 697.58 L473.59 706.66 L475.41 711.17 L476.4 721.78 L477.8 726.29 L479.21 728.57 L480.61 730.86 L481.6 728.57 L482.72 730.86 L484.13 735.43 L486.23 736.91 L487.64 732.4 L489.04 730.12 L490.45 735.43 L492.55 735.43 L494.67 733.14 L499.97 735.18 L502.5 734.5 L504.77 727.71 L506.04 731.78 L507.56 735.86 L510.09 733.14 L511.98 733.14 L513.88 730.43 L515.14 731.78 L516.41 735.86 L520.84 735.86 L522.73 735.18 L525.27 734.5 L527.79 727.71 L529.31 731.78 L530.58 734.5 L532.6 727.03 L534.37 731.78 L536.02 735.86 L540.44 735.86 L543.61 735.18 L545.5 732.46 L547.4 731.11 L551.02 734.5 L552.92 733.82 L555.45 735.86 L557.98 730.43 L559.24 727.03 L561.14 727.03 L563.04 735.86 L565.57 735.86 L567.47 730.43 L569.36 731.78 L570.63 735.86 L575.69 735.86 L578.22 733.14 L580.12 734.5 L582.01 735.86 L588.97 735.86 L592.76 735.18 L595.93 733.82 L597.82 733.14 L599.72 731.78 L600.94 721.04 L602.34 724.81 L604.17 728.57 L605.85 711.17 L607.26 700.61 L608.95 687.71 L610.35 700.61 L612.18 705.12 L614 707.4 L615.69 699.07 L617.38 700.61 L619.2 702.09 L621.03 684.68 L622.3 693.02 L623.42 683.94 L625.25 678.63 L626.93 664.99 L628.76 667.27 L630.87 658.2 L632.56 657.46 L633.96 657.46 L635.65 631.72 L637.05 632.46 L638.88 627.95 L640.71 633.2 L641.97 618.81 L643.8 613.57 L645.49 590.11 L646.61 591.59 L648.01 593.87 L648.8 593.87" fill="none" stroke="#000" stroke-width="1.6" stroke-linejoin="round"/>
<path d="M435 732.92 L435.03 732.92 L499.85 732.47 L500.83 732.66 L502.24 727.01 L503.94 723.47 L505.07 717.12 L506.06 606.95 L507.61 731.24 L509.03 709.35 L510.72 729.83 L512.84 679.69 L514.26 698.76 L515.67 686.75 L517.09 697.34 L518.93 731.24 L521.33 731.95 L522.74 729.83 L524.15 656.38 L525.57 725.59 L527.69 632.37 L529.39 650.73 L531.65 731.24 L533.06 730.54 L534.2 729.83 L536.18 625.31 L538.3 664.86 L540.14 710.06 L541.12 732.66 L542.54 675.45 L544.66 732.66 L546.78 707.23 L548.9 657.8 L550.83 647.91 L552.53 731.24 L554.36 701.58 L555.78 732.66 L557.61 707.23 L559.03 722.77 L561.01 647.91 L562.42 717.12 L564.26 682.51 L565.67 732.66 L567.51 663.45 L569.21 704.41 L570.91 707.23 L572.32 731.24 L574.16 698.05 L576 732.66 L577.97 728.42 L580.23 732.66 L582.22 732.66 L584.19 698.76 L585.89 731.95 L589 731.24 L591.83 731.95 L594.66 732.66 L597.2 714.29 L598.9 732.66 L603 732.66 L646.97 732.66 L648.8 732.66" fill="none" stroke="#ff0000" stroke-width="1.7" stroke-linejoin="round"/>
<path d="M434.4 551.4 H648.8" stroke="#262626" stroke-width="1.3"/>
<path d="M435 551.4 V737.2" stroke="#262626" stroke-width="1.3"/>
<path d="M435 736.6 H648.8" stroke="#4a4a4a" stroke-width="1.5"/>
<path d="M648.8 550.8 V737.2" stroke="#ff0000" stroke-width="1.2"/>
<path d="M431.8 736.6H435M433.2 721.17H435M431.8 705.73H435M433.2 690.3H435M431.8 674.87H435M433.2 659.43H435M431.8 644H435M433.2 628.57H435M431.8 613.13H435M433.2 597.7H435M431.8 582.27H435M433.2 566.83H435M431.8 551.4H435M435 736.6V739.8M448.36 736.6V738.4M461.73 736.6V739.8M475.09 736.6V738.4M488.45 736.6V739.8M501.81 736.6V738.4M515.17 736.6V739.8M528.54 736.6V738.4M541.9 736.6V739.8M555.26 736.6V738.4M568.62 736.6V739.8M581.99 736.6V738.4M595.35 736.6V739.8M608.71 736.6V738.4M622.07 736.6V739.8M635.44 736.6V738.4M648.8 736.6V739.8" stroke="#262626" stroke-width="1.1" fill="none"/>
<path d="M648.8 733.4H652M648.8 718.23H650.6M648.8 703.07H652M648.8 687.9H650.6M648.8 672.73H652M648.8 657.57H650.6M648.8 642.4H652M648.8 627.23H650.6M648.8 612.07H652M648.8 596.9H650.6M648.8 581.73H652M648.8 566.57H650.6M648.8 551.4H652" stroke="#ff0000" stroke-width="1.1" fill="none"/>
<text transform="translate(429 741.14) scale(1 1.08)" text-anchor="end" class="tk">0. 000</text>
<text transform="translate(429 710.27) scale(1 1.08)" text-anchor="end" class="tk">0. 005</text>
<text transform="translate(429 679.4) scale(1 1.08)" text-anchor="end" class="tk">0. 010</text>
<text transform="translate(429 648.54) scale(1 1.08)" text-anchor="end" class="tk">0. 015</text>
<text transform="translate(429 617.67) scale(1 1.08)" text-anchor="end" class="tk">0. 020</text>
<text transform="translate(429 586.8) scale(1 1.08)" text-anchor="end" class="tk">0. 025</text>
<text transform="translate(429 555.94) scale(1 1.08)" text-anchor="end" class="tk">0. 030</text>
<text transform="translate(435 753.1) scale(1 1.08)" text-anchor="middle" class="tk">−2. 0</text>
<text transform="translate(461.73 753.1) scale(1 1.08)" text-anchor="middle" class="tk">−1. 5</text>
<text transform="translate(488.45 753.1) scale(1 1.08)" text-anchor="middle" class="tk">−1. 0</text>
<text transform="translate(515.17 753.1) scale(1 1.08)" text-anchor="middle" class="tk">−0. 5</text>
<text transform="translate(541.9 753.1) scale(1 1.08)" text-anchor="middle" class="tk">0. 0</text>
<text transform="translate(568.62 753.1) scale(1 1.08)" text-anchor="middle" class="tk">0. 5</text>
<text transform="translate(595.35 753.1) scale(1 1.08)" text-anchor="middle" class="tk">1. 0</text>
<text transform="translate(622.07 753.1) scale(1 1.08)" text-anchor="middle" class="tk">1. 5</text>
<text transform="translate(648.8 753.1) scale(1 1.08)" text-anchor="middle" class="tk">2. 0</text>
<text transform="translate(655.1 737.94) scale(1 1.08)" class="rt">0</text>
<text transform="translate(655.1 707.6) scale(1 1.08)" class="rt">1</text>
<text transform="translate(655.1 677.27) scale(1 1.08)" class="rt">2</text>
<text transform="translate(655.1 646.94) scale(1 1.08)" class="rt">3</text>
<text transform="translate(655.1 616.6) scale(1 1.08)" class="rt">4</text>
<text transform="translate(655.1 586.27) scale(1 1.08)" class="rt">5</text>
<text transform="translate(655.1 555.94) scale(1 1.08)" class="rt">6</text>
<text transform="translate(390.7 644) rotate(-90)" text-anchor="middle" class="yl" textLength="115.7" lengthAdjust="spacingAndGlyphs">Film thickness (<tspan font-style="italic">h/a</tspan>)</text>
<text transform="translate(677.1 644) rotate(-90)" text-anchor="middle" class="pl" textLength="86.4" lengthAdjust="spacingAndGlyphs">Pressure (<tspan font-style="italic">p/ph</tspan>)</text>
<text transform="translate(541.9 771.7) scale(1 1.08)" text-anchor="middle" class="xl">x/a</text>
<rect x="436.3" y="553.45" width="56.9" height="31.43" fill="#fff" stroke="#d4d4d4" stroke-width="0.9"/>
<path d="M438 561.88H466" stroke="#111" stroke-width="1.3"/>
<path d="M438 577.1H466" stroke="#ff0000" stroke-width="1.3"/>
<text transform="translate(468.5 566.09) scale(1 1.08)" class="lg" textLength="15.3" lengthAdjust="spacingAndGlyphs">h/a</text>
<text transform="translate(468.5 580.56) scale(1 1.08)" class="lg" textLength="22.6" lengthAdjust="spacingAndGlyphs">p/ph</text>
<text x="222.5" y="822.3" class="if">BL&#160;&#160;interface</text>
<path d="M124.5 839.05 L124.94 839.05 L126.34 839.85 L127.75 846.61 L129.15 851.16 L130.14 854.17 L131.26 861.73 L132.67 862.53 L134.07 869.29 L135.48 870.83 L137.59 872.37 L138.99 875.38 L140.4 882.94 L141.1 888.22 L142.51 890.5 L143.91 896.52 L145.32 898.8 L146.44 900.33 L147.42 908.63 L148.83 920.74 L149.81 922.28 L150.94 918.47 L152.35 920.74 L153.05 926.76 L154.03 938.14 L155.15 926.76 L156.28 922.28 L157.26 926.76 L158.25 932.85 L159.09 935.86 L160.07 929.84 L161.06 924.55 L162.18 935.86 L162.89 944.96 L164.29 946.43 L165.28 952.52 L166.4 960.08 L167.52 967.64 L168.5 969.11 L169.91 968.38 L170.89 966.9 L172.02 969.11 L173.43 972.19 L175.53 973.66 L177.64 970.65 L179.75 972.19 L181.86 973.66 L183.97 972.93 L186.07 973.66 L187.53 973.05 L189.92 972.19 L193.11 971.33 L195.49 970.47 L197.08 972.19 L198.68 968.75 L201.06 969.61 L202.66 972.19 L205.05 973.05 L208.23 972.19 L210.62 970.47 L212.21 967.89 L213.8 971.33 L215.4 973.05 L218.58 973.05 L220.97 969.61 L222.08 967.02 L223.36 973.05 L232.91 973.05 L234.5 969.61 L236.41 965.3 L238.48 971.33 L238.91 973.05 L242.1 969.61 L244.48 972.19 L247.67 973.05 L250.86 973.05 L253.24 970.47 L255.31 967.89 L256.43 958.48 L258.02 967.89 L260.4 968.75 L262.79 970.47 L264.39 972.19 L265.98 965.3 L268.37 967.89 L270.75 973.05 L276.33 973.05 L278.72 971.33 L282.7 973.05 L285.88 973.05 L288.27 971.33 L288.82 964.63 L290.23 965.37 L292.06 966.9 L293.46 957.07 L295.15 941.95 L296.55 932.11 L297.68 927.56 L299.08 937.4 L300.77 944.16 L302.46 945.7 L304.29 938.87 L306.11 938.14 L307.51 941.95 L309.2 927.56 L310.61 929.04 L312.01 926.03 L313.7 916.19 L315.53 904.08 L317.64 907.16 L319.04 898.8 L320.44 896.52 L322.13 898.06 L323.26 873.1 L324.94 872.37 L326.77 867.82 L328.6 873.1 L330.28 856.45 L331.69 853.43 L333.1 830.02 L334.5 830.75 L335.91 833.77 L336.9 833.77" fill="none" stroke="#000" stroke-width="1.6" stroke-linejoin="round"/>
<path d="M124.5 972.17 L126.02 972.17 L171.22 972.17 L173.48 971.41 L175.44 969.45 L177.25 971.11 L179.51 972.17 L186.29 971.41 L188.74 910.17 L190.94 962.71 L192.13 955.08 L193.49 971.19 L195.53 893.22 L197.22 969.49 L198.92 923.73 L200.62 969.49 L202.31 938.14 L204.01 971.19 L205.37 908.47 L207.41 969.49 L209.1 964.41 L210.8 967.8 L213.52 875.42 L215.56 940.68 L216.92 961.02 L218.61 891.53 L220.31 952.54 L222.01 971.19 L223.2 969.49 L225.06 866.1 L226.76 947.46 L228.79 915.25 L230.49 938.98 L232.53 952.54 L234.57 971.19 L235.59 962.71 L237.11 816.95 L238.39 967.8 L240.09 901.69 L242.13 969.49 L244.85 897.46 L246.88 969.49 L248.58 945.76 L250.28 969.49 L251.98 940.68 L254.01 923.73 L256.22 882.2 L258.42 969.49 L260.12 933.9 L261.82 969.49 L263.18 945.76 L265.21 971.19 L268.1 971.19 L270.99 971.19 L273.2 909.32 L274.89 971.19 L276.59 910.17 L278.8 971.19 L281.17 962.71 L283.38 971.19 L285.92 972.03 L290 972.88 L336.85 972.88 L336.9 972.88" fill="none" stroke="#ff0000" stroke-width="1.7" stroke-linejoin="round"/>
<path d="M123.9 790.8 H336.9" stroke="#262626" stroke-width="1.3"/>
<path d="M124.5 790.8 V975.8" stroke="#262626" stroke-width="1.3"/>
<path d="M124.5 975.2 H336.9" stroke="#4a4a4a" stroke-width="1.5"/>
<path d="M336.9 790.2 V975.8" stroke="#ff0000" stroke-width="1.2"/>
<path d="M121.3 975.2H124.5M122.7 959.83H124.5M121.3 944.47H124.5M122.7 929.1H124.5M121.3 913.73H124.5M122.7 898.37H124.5M121.3 883H124.5M122.7 867.63H124.5M121.3 852.27H124.5M122.7 836.9H124.5M121.3 821.53H124.5M122.7 806.17H124.5M121.3 790.8H124.5M124.5 975.2V978.4M137.78 975.2V977M151.05 975.2V978.4M164.32 975.2V977M177.6 975.2V978.4M190.88 975.2V977M204.15 975.2V978.4M217.42 975.2V977M230.7 975.2V978.4M243.97 975.2V977M257.25 975.2V978.4M270.52 975.2V977M283.8 975.2V978.4M297.07 975.2V977M310.35 975.2V978.4M323.62 975.2V977M336.9 975.2V978.4" stroke="#262626" stroke-width="1.1" fill="none"/>
<path d="M336.9 972.6H340.1M336.9 957.45H338.7M336.9 942.3H340.1M336.9 927.15H338.7M336.9 912H340.1M336.9 896.85H338.7M336.9 881.7H340.1M336.9 866.55H338.7M336.9 851.4H340.1M336.9 836.25H338.7M336.9 821.1H340.1M336.9 805.95H338.7M336.9 790.8H340.1" stroke="#ff0000" stroke-width="1.1" fill="none"/>
<text transform="translate(118.5 979.74) scale(1 1.08)" text-anchor="end" class="tk">0. 000</text>
<text transform="translate(118.5 949) scale(1 1.08)" text-anchor="end" class="tk">0. 005</text>
<text transform="translate(118.5 918.27) scale(1 1.08)" text-anchor="end" class="tk">0. 010</text>
<text transform="translate(118.5 887.54) scale(1 1.08)" text-anchor="end" class="tk">0. 015</text>
<text transform="translate(118.5 856.8) scale(1 1.08)" text-anchor="end" class="tk">0. 020</text>
<text transform="translate(118.5 826.07) scale(1 1.08)" text-anchor="end" class="tk">0. 025</text>
<text transform="translate(118.5 795.34) scale(1 1.08)" text-anchor="end" class="tk">0. 030</text>
<text transform="translate(124.5 991.7) scale(1 1.08)" text-anchor="middle" class="tk">−2. 0</text>
<text transform="translate(151.05 991.7) scale(1 1.08)" text-anchor="middle" class="tk">−1. 5</text>
<text transform="translate(177.6 991.7) scale(1 1.08)" text-anchor="middle" class="tk">−1. 0</text>
<text transform="translate(204.15 991.7) scale(1 1.08)" text-anchor="middle" class="tk">−0. 5</text>
<text transform="translate(230.7 991.7) scale(1 1.08)" text-anchor="middle" class="tk">0. 0</text>
<text transform="translate(257.25 991.7) scale(1 1.08)" text-anchor="middle" class="tk">0. 5</text>
<text transform="translate(283.8 991.7) scale(1 1.08)" text-anchor="middle" class="tk">1. 0</text>
<text transform="translate(310.35 991.7) scale(1 1.08)" text-anchor="middle" class="tk">1. 5</text>
<text transform="translate(336.9 991.7) scale(1 1.08)" text-anchor="middle" class="tk">2. 0</text>
<text transform="translate(343.2 977.14) scale(1 1.08)" class="rt">0</text>
<text transform="translate(343.2 946.84) scale(1 1.08)" class="rt">1</text>
<text transform="translate(343.2 916.54) scale(1 1.08)" class="rt">2</text>
<text transform="translate(343.2 886.24) scale(1 1.08)" class="rt">3</text>
<text transform="translate(343.2 855.94) scale(1 1.08)" class="rt">4</text>
<text transform="translate(343.2 825.64) scale(1 1.08)" class="rt">5</text>
<text transform="translate(343.2 795.34) scale(1 1.08)" class="rt">6</text>
<text transform="translate(80.2 883) rotate(-90)" text-anchor="middle" class="yl" textLength="115.7" lengthAdjust="spacingAndGlyphs">Film thickness (<tspan font-style="italic">h/a</tspan>)</text>
<text transform="translate(365.2 883) rotate(-90)" text-anchor="middle" class="pl" textLength="86.4" lengthAdjust="spacingAndGlyphs">Pressure (<tspan font-style="italic">p/ph</tspan>)</text>
<text transform="translate(230.7 1010.3) scale(1 1.08)" text-anchor="middle" class="xl">x/a</text>
<rect x="125.8" y="792.85" width="56.9" height="31.43" fill="#fff" stroke="#d4d4d4" stroke-width="0.9"/>
<path d="M127.5 801.28H155.5" stroke="#111" stroke-width="1.3"/>
<path d="M127.5 816.5H155.5" stroke="#ff0000" stroke-width="1.3"/>
<text transform="translate(158 805.49) scale(1 1.08)" class="lg" textLength="15.3" lengthAdjust="spacingAndGlyphs">h/a</text>
<text transform="translate(158 819.96) scale(1 1.08)" class="lg" textLength="22.6" lengthAdjust="spacingAndGlyphs">p/ph</text>
<text x="530" y="823.5" class="if">BR&#160;&#160;interface</text>
<path d="M433 839.42 L433.43 839.42 L434.84 840.22 L436.24 846.96 L437.63 851.5 L438.62 854.5 L439.73 862.04 L441.14 862.84 L442.54 869.58 L443.94 871.11 L446.04 872.65 L447.44 875.65 L448.84 883.19 L449.54 888.46 L450.94 890.73 L452.34 896.74 L453.74 899 L454.86 900.54 L455.84 908.81 L457.24 920.89 L458.22 922.42 L459.34 918.62 L460.74 920.89 L461.44 926.9 L462.42 938.24 L463.54 926.9 L464.66 922.42 L465.64 926.9 L466.62 932.96 L467.46 935.97 L468.44 929.96 L469.42 924.69 L470.54 935.97 L471.24 945.04 L472.64 946.51 L473.62 952.58 L474.74 960.12 L475.86 967.66 L476.84 969.13 L478.24 968.4 L479.22 966.92 L480.34 969.13 L481.74 972.2 L483.84 973.67 L485.94 970.66 L488.04 972.2 L490.14 973.67 L492.24 972.93 L494.34 973.67 L495.79 973.05 L498.17 972.2 L501.35 971.34 L503.73 970.48 L505.31 972.2 L506.9 968.76 L509.28 969.62 L510.86 972.2 L513.24 973.05 L516.41 972.2 L518.79 970.48 L520.38 967.91 L521.97 971.34 L523.55 973.05 L526.72 973.05 L529.1 969.62 L530.21 967.05 L531.48 973.05 L541 973.05 L542.58 969.62 L544.49 965.33 L546.55 971.34 L546.98 973.05 L550.15 969.62 L552.53 972.2 L555.71 973.05 L558.88 973.05 L561.26 970.48 L563.32 967.91 L564.43 958.53 L566.02 967.91 L568.39 968.76 L570.77 970.48 L572.36 972.2 L573.95 965.33 L576.33 967.91 L578.7 973.05 L584.26 973.05 L586.64 971.34 L590.6 973.05 L593.77 973.05 L596.15 971.34 L596.7 964.66 L598.11 965.39 L599.93 966.92 L601.33 957.12 L603 942.04 L604.41 932.23 L605.53 927.69 L606.92 937.5 L608.61 944.24 L610.29 945.78 L612.11 938.97 L613.93 938.24 L615.33 942.04 L617.01 927.69 L618.41 929.16 L619.81 926.16 L621.49 916.35 L623.31 904.28 L625.41 907.34 L626.81 899 L628.21 896.74 L629.89 898.27 L631.01 873.38 L632.69 872.65 L634.51 868.11 L636.33 873.38 L638.01 856.77 L639.41 853.76 L640.81 830.41 L642.21 831.14 L643.61 834.15 L644.6 834.15" fill="none" stroke="#000" stroke-width="1.6" stroke-linejoin="round"/>
<path d="M433 972.07 L434.52 972.07 L479.55 972.07 L481.8 971.32 L483.75 969.36 L485.55 971.02 L487.8 972.07 L494.56 971.32 L496.99 910.28 L499.19 962.64 L500.37 955.04 L501.73 971.09 L503.76 893.38 L505.45 969.4 L507.14 923.79 L508.83 969.4 L510.52 938.15 L512.21 971.09 L513.57 908.59 L515.59 969.4 L517.29 964.33 L518.98 967.71 L521.68 875.64 L523.71 940.68 L525.07 960.96 L526.75 891.69 L528.45 952.51 L530.14 971.09 L531.33 969.4 L533.18 866.35 L534.87 947.44 L536.9 915.34 L538.59 938.99 L540.63 952.51 L542.65 971.09 L543.67 962.64 L545.19 817.36 L546.47 967.71 L548.16 901.83 L550.18 969.4 L552.89 897.61 L554.92 969.4 L556.61 945.75 L558.3 969.4 L560 940.68 L562.02 923.79 L564.22 882.4 L566.42 969.4 L568.11 933.93 L569.8 969.4 L571.16 945.75 L573.18 971.09 L576.06 971.09 L578.94 971.09 L581.14 909.43 L582.82 971.09 L584.52 910.28 L586.72 971.09 L589.08 962.64 L591.28 971.09 L593.82 971.94 L597.88 972.78 L644.55 972.78 L644.6 972.78" fill="none" stroke="#ff0000" stroke-width="1.7" stroke-linejoin="round"/>
<path d="M432.4 791.3 H644.6" stroke="#262626" stroke-width="1.3"/>
<path d="M433 791.3 V975.8" stroke="#262626" stroke-width="1.3"/>
<path d="M433 975.2 H644.6" stroke="#4a4a4a" stroke-width="1.5"/>
<path d="M644.6 790.7 V975.8" stroke="#ff0000" stroke-width="1.2"/>
<path d="M429.8 975.2H433M431.2 959.88H433M429.8 944.55H433M431.2 929.23H433M429.8 913.9H433M431.2 898.58H433M429.8 883.25H433M431.2 867.92H433M429.8 852.6H433M431.2 837.27H433M429.8 821.95H433M431.2 806.62H433M429.8 791.3H433M433 975.2V978.4M446.23 975.2V977M459.45 975.2V978.4M472.68 975.2V977M485.9 975.2V978.4M499.12 975.2V977M512.35 975.2V978.4M525.58 975.2V977M538.8 975.2V978.4M552.02 975.2V977M565.25 975.2V978.4M578.48 975.2V977M591.7 975.2V978.4M604.92 975.2V977M618.15 975.2V978.4M631.38 975.2V977M644.6 975.2V978.4" stroke="#262626" stroke-width="1.1" fill="none"/>
<path d="M644.6 972.5H647.8M644.6 957.4H646.4M644.6 942.3H647.8M644.6 927.2H646.4M644.6 912.1H647.8M644.6 897H646.4M644.6 881.9H647.8M644.6 866.8H646.4M644.6 851.7H647.8M644.6 836.6H646.4M644.6 821.5H647.8M644.6 806.4H646.4M644.6 791.3H647.8" stroke="#ff0000" stroke-width="1.1" fill="none"/>
<text transform="translate(427 979.74) scale(1 1.08)" text-anchor="end" class="tk">0. 000</text>
<text transform="translate(427 949.09) scale(1 1.08)" text-anchor="end" class="tk">0. 005</text>
<text transform="translate(427 918.44) scale(1 1.08)" text-anchor="end" class="tk">0. 010</text>
<text transform="translate(427 887.79) scale(1 1.08)" text-anchor="end" class="tk">0. 015</text>
<text transform="translate(427 857.14) scale(1 1.08)" text-anchor="end" class="tk">0. 020</text>
<text transform="translate(427 826.49) scale(1 1.08)" text-anchor="end" class="tk">0. 025</text>
<text transform="translate(427 795.84) scale(1 1.08)" text-anchor="end" class="tk">0. 030</text>
<text transform="translate(433 991.7) scale(1 1.08)" text-anchor="middle" class="tk">−2. 0</text>
<text transform="translate(459.45 991.7) scale(1 1.08)" text-anchor="middle" class="tk">−1. 5</text>
<text transform="translate(485.9 991.7) scale(1 1.08)" text-anchor="middle" class="tk">−1. 0</text>
<text transform="translate(512.35 991.7) scale(1 1.08)" text-anchor="middle" class="tk">−0. 5</text>
<text transform="translate(538.8 991.7) scale(1 1.08)" text-anchor="middle" class="tk">0. 0</text>
<text transform="translate(565.25 991.7) scale(1 1.08)" text-anchor="middle" class="tk">0. 5</text>
<text transform="translate(591.7 991.7) scale(1 1.08)" text-anchor="middle" class="tk">1. 0</text>
<text transform="translate(618.15 991.7) scale(1 1.08)" text-anchor="middle" class="tk">1. 5</text>
<text transform="translate(644.6 991.7) scale(1 1.08)" text-anchor="middle" class="tk">2. 0</text>
<text transform="translate(650.9 977.04) scale(1 1.08)" class="rt">0</text>
<text transform="translate(650.9 946.84) scale(1 1.08)" class="rt">1</text>
<text transform="translate(650.9 916.64) scale(1 1.08)" class="rt">2</text>
<text transform="translate(650.9 886.44) scale(1 1.08)" class="rt">3</text>
<text transform="translate(650.9 856.24) scale(1 1.08)" class="rt">4</text>
<text transform="translate(650.9 826.04) scale(1 1.08)" class="rt">5</text>
<text transform="translate(650.9 795.84) scale(1 1.08)" class="rt">6</text>
<text transform="translate(388.7 883.25) rotate(-90)" text-anchor="middle" class="yl" textLength="115.7" lengthAdjust="spacingAndGlyphs">Film thickness (<tspan font-style="italic">h/a</tspan>)</text>
<text transform="translate(672.9 883.25) rotate(-90)" text-anchor="middle" class="pl" textLength="86.4" lengthAdjust="spacingAndGlyphs">Pressure (<tspan font-style="italic">p/ph</tspan>)</text>
<text transform="translate(538.8 1010.3) scale(1 1.08)" text-anchor="middle" class="xl">x/a</text>
<rect x="434.3" y="793.35" width="56.9" height="31.43" fill="#fff" stroke="#d4d4d4" stroke-width="0.9"/>
<path d="M436 801.78H464" stroke="#111" stroke-width="1.3"/>
<path d="M436 817H464" stroke="#ff0000" stroke-width="1.3"/>
<text transform="translate(466.5 805.99) scale(1 1.08)" class="lg" textLength="15.3" lengthAdjust="spacingAndGlyphs">h/a</text>
<text transform="translate(466.5 820.46) scale(1 1.08)" class="lg" textLength="22.6" lengthAdjust="spacingAndGlyphs">p/ph</text>
<text transform="translate(37.6 230.5) rotate(-90)" text-anchor="middle" class="bt" textLength="333" lengthAdjust="spacingAndGlyphs">Pressure and film thickness distribution</text>
<text transform="translate(40.2 781.2) rotate(-90)" text-anchor="middle" class="bt" textLength="353.5" lengthAdjust="spacingAndGlyphs" style="font-size:22.6px">Pressure and film thickness distribution</text>
<text x="342.9" y="504.2" text-anchor="middle" class="cap">(a)</text>
<text x="343" y="1057" text-anchor="middle" class="cap">(b)</text>
</svg>
</body></html>
